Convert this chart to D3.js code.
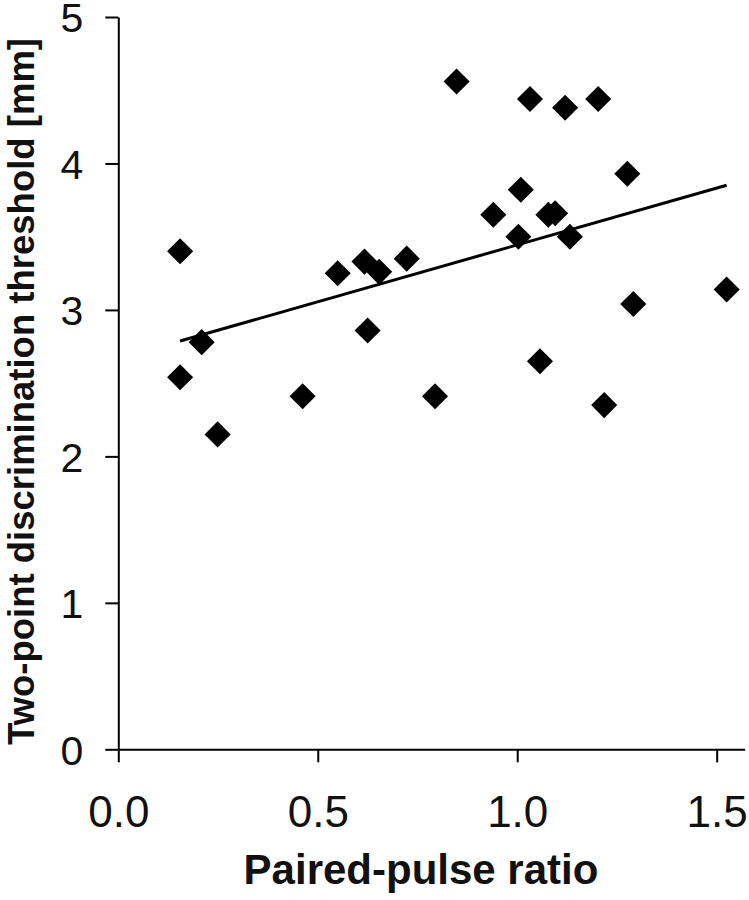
<!DOCTYPE html>
<html>
<head>
<meta charset="utf-8">
<script src="https://cdn.jsdelivr.net/npm/d3@7"></script>
<style>
  html, body { margin: 0; padding: 0; background: #fff; }
  svg { display: block; }
</style>
</head>
<body>
<div id="chart"></div>
<script>
// Paired-pulse ratio (x) vs two-point discrimination threshold in mm (y)
const ppRatio = [
  0.155, 0.209, 0.155, 0.462, 0.249, 0.848, 0.550, 0.617, 0.654, 0.723,
  0.940, 1.032, 1.120, 1.203, 1.276, 1.009, 1.078, 1.095, 1.003, 1.132,
  0.625, 1.525, 1.291, 1.057, 0.794, 1.218,
];
const threshold = [
  3.40, 2.78, 2.54, 2.41, 2.15, 4.56, 3.25, 3.33, 3.26, 3.35,
  3.65, 4.44, 4.38, 4.44, 3.93, 3.82, 3.65, 3.66, 3.50, 3.50,
  2.86, 3.14, 3.04, 2.65, 2.41, 2.35,
];
const xTicks = [0, 0.5, 1.0, 1.5];
const yTicks = [0, 1, 2, 3, 4, 5];
const xLabel = 'Paired-pulse ratio';
const yLabel = 'Two-point discrimination threshold [mm]';

const width = 749;
const height = 900;
const font = '"Liberation Sans", Arial, Helvetica, sans-serif';

const points = ppRatio.map((x, i) => ({ x, y: threshold[i] }));

// Linear least-squares trend line over the data range
const mx = d3.mean(points, (d) => d.x);
const my = d3.mean(points, (d) => d.y);
const slope = d3.sum(points, (d) => (d.x - mx) * (d.y - my))
  / d3.sum(points, (d) => (d.x - mx) ** 2);
const intercept = my - slope * mx;
const [xMin, xMax] = d3.extent(points, (d) => d.x);
const trend = [xMin, xMax].map((x) => ({ x, y: intercept + slope * x }));

const x = d3.scaleLinear().domain([0, 1.57]).range([118.3, 744.6]);
const y = d3.scaleLinear().domain([0, 5]).range([749.3, 17]);

const svg = d3.select('#chart').append('svg')
  .attr('width', width)
  .attr('height', height)
  .style('background', '#fff');

// X axis
const xAxis = svg.append('g')
  .attr('transform', `translate(0,${y(0)})`)
  .call(d3.axisBottom(x)
    .tickValues(xTicks)
    .tickFormat(d3.format('.1f'))
    .tickSize(13)
    .tickSizeOuter(0));
xAxis.select('.domain').attr('stroke-width', 2);
xAxis.selectAll('.tick line').attr('stroke-width', 2);
xAxis.selectAll('.tick text')
  .attr('y', 78)
  .attr('dy', 0)
  .style('font-family', font)
  .style('font-size', '44px')
  .attr('fill', '#111');

// Y axis
const yAxis = svg.append('g')
  .attr('transform', `translate(${x(0)},0)`)
  .call(d3.axisLeft(y)
    .tickValues(yTicks)
    .tickFormat(d3.format('d'))
    .tickSize(13)
    .tickPadding(22)
    .tickSizeOuter(0));
yAxis.select('.domain').attr('stroke-width', 2);
yAxis.selectAll('.tick line').attr('stroke-width', 2);
yAxis.selectAll('.tick text')
  .attr('dy', '0.36em')
  .style('font-family', font)
  .style('font-size', '41px')
  .attr('fill', '#111');

// Trend line
svg.append('path')
  .datum(trend)
  .attr('fill', 'none')
  .attr('stroke', '#000')
  .attr('stroke-width', 3)
  .attr('d', d3.line().x((d) => x(d.x)).y((d) => y(d.y)));

// Diamond markers
const diamond = d3.symbol().type(d3.symbolSquare).size(340);
svg.append('g')
  .selectAll('path')
  .data(points)
  .join('path')
  .attr('d', diamond)
  .attr('transform', (d) => `translate(${x(d.x)},${y(d.y)}) rotate(45)`)
  .attr('fill', '#000');

// Axis titles
svg.append('text')
  .attr('x', 421)
  .attr('y', 884)
  .attr('text-anchor', 'middle')
  .style('font-family', font)
  .style('font-size', '42px')
  .style('font-weight', 'bold')
  .attr('fill', '#111')
  .text(xLabel);

svg.append('text')
  .attr('transform', 'translate(34,391.5) rotate(-90)')
  .attr('text-anchor', 'middle')
  .attr('textLength', 707)
  .attr('lengthAdjust', 'spacingAndGlyphs')
  .style('font-family', font)
  .style('font-size', '37px')
  .style('font-weight', 'bold')
  .attr('fill', '#111')
  .text(yLabel);
</script>
</body>
</html>
